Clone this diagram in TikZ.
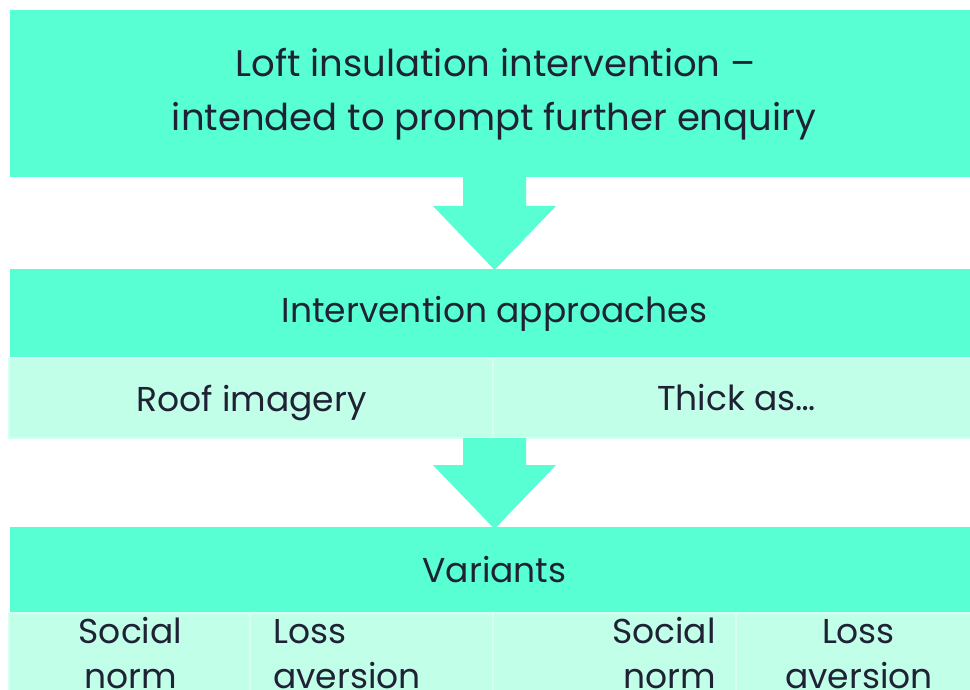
\documentclass[tikz,border=0pt]{standalone}
\usepackage{fontspec}
\setmainfont{Poppins}
\usetikzlibrary{calc}
\definecolor{darkteal}{HTML}{57FFD3}
\definecolor{lightteal}{HTML}{C2FFE8}
\definecolor{lborder}{HTML}{D6FFF2}
\definecolor{ink}{HTML}{1F2134}
\tikzset{
  darkbox/.style={rectangle, fill=darkteal, draw=none, inner sep=0pt, outer sep=0pt, anchor=north west},
  lightcell/.style={rectangle, fill=lightteal, draw=lborder, line width=1.5pt, inner sep=0pt, outer sep=0pt, anchor=north west},
  bigtxt/.style={text=ink, inner sep=0pt, anchor=base, font=\fontsize{37}{44}\selectfont},
  txt/.style={text=ink, inner sep=0pt, anchor=base, font=\fontsize{34.5}{41}\selectfont},
  blockarrow/.style={fill=darkteal, draw=none}
}
\newcommand\downarrowblock[2]{%
  \fill[blockarrow] ($(#1)+(-31.5,0)$) -- ($(#1)+(31.5,0)$) -- ($(#2)+(31.5,-64)$) -- ($(#2)+(61.5,-64)$) -- (#2) -- ($(#2)+(-61.5,-64)$) -- ($(#2)+(-31.5,-64)$) -- cycle;}
\begin{document}
\begin{tikzpicture}[x=1pt,y=-1pt]
\useasboundingbox (0,0) rectangle (970,690);
\clip (0,0) rectangle (970,690);
% boxes
\node[darkbox, minimum width=960pt, minimum height=167pt] (top) at (10,10) {};
\node[darkbox, minimum width=960pt, minimum height=89pt] (appr) at (10,269) {};
\node[lightcell, minimum width=484pt, minimum height=80pt] (roof) at (8.75,358) {};
\node[lightcell, minimum width=480pt, minimum height=80pt] (thick) at (493,358) {};
\node[darkbox, minimum width=960pt, minimum height=86pt] (var) at (10,527) {};
\node[lightcell, minimum width=241.25pt, minimum height=95pt] (v1) at (8.75,613) {};
\node[lightcell, minimum width=243pt, minimum height=95pt] (v2) at (250,613) {};
\node[lightcell, minimum width=243pt, minimum height=95pt] (v3) at (493,613) {};
\node[lightcell, minimum width=240pt, minimum height=95pt] (v4) at (736,613) {};
% arrows
\coordinate (a1s) at (494.5,0 |- top.south);
\coordinate (a1e) at (494.5,270);
\coordinate (a2s) at (494.5,0 |- roof.south);
\coordinate (a2e) at (494.5,529);
\downarrowblock{a1s}{a1e}
\downarrowblock{a2s}{a2e}
% texts
\node[bigtxt] (t1) at (495.5,77) {Loft insulation intervention –};
\node[bigtxt] (t2) at (494,131) {intended to prompt further enquiry};
\node[txt] (t3) at (494.5,322) {Intervention approaches};
\node[txt] (t4) at (251.5,411) {Roof imagery};
\node[txt] (t5) at (736.5,410) {Thick as…};
\node[txt] (t6) at (494.5,582) {Variants};
\node[txt] (s1a) at (130.5,643) {Social};
\node[txt] (s1b) at (131,688) {norm};
\node[txt, anchor=base west] (l1a) at (273,643) {Loss};
\node[txt, anchor=base west] (l1b) at (273,688) {aversion};
\node[txt, anchor=base east] (s2a) at (716,643) {Social};
\node[txt, anchor=base east] (s2b) at (716,688) {norm};
\node[txt] (l2a) at (858.5,643) {Loss};
\node[txt] (l2b) at (859,688) {aversion};
\end{tikzpicture}
\end{document}
